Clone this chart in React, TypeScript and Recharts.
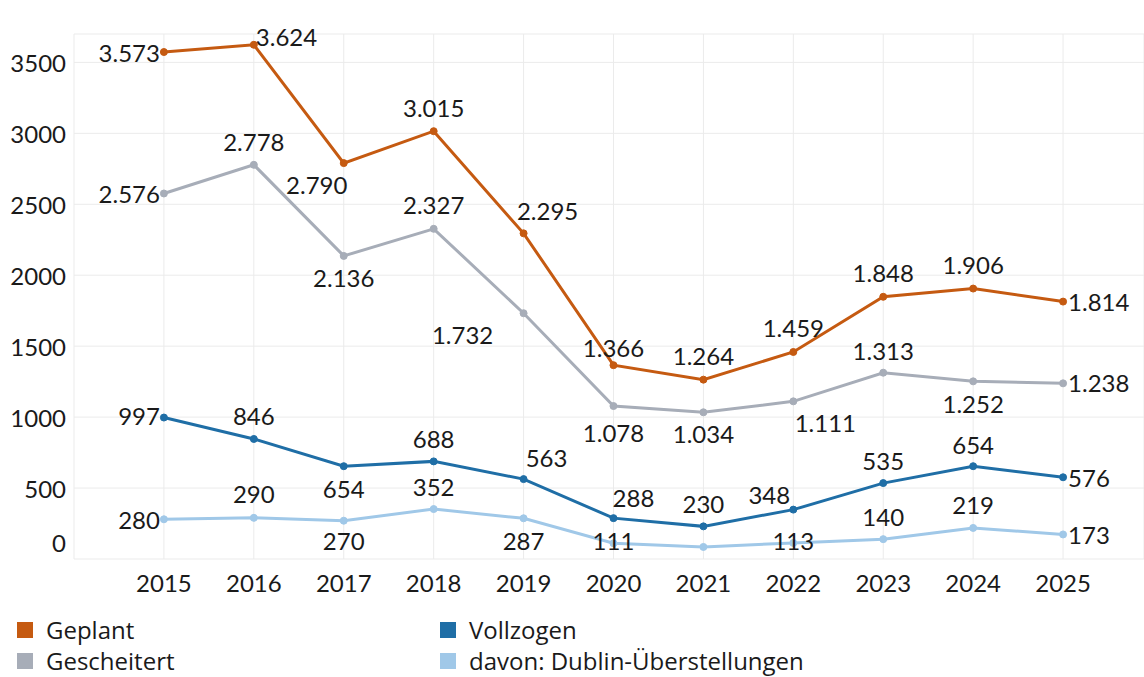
import React from "react";
import { LineChart, Line, XAxis, YAxis, CartesianGrid, LabelList } from "recharts";

const years = [2015, 2016, 2017, 2018, 2019, 2020, 2021, 2022, 2023, 2024, 2025];
const geplant = [3573, 3624, 2790, 3015, 2295, 1366, 1264, 1459, 1848, 1906, 1814];
const gescheitert = [2576, 2778, 2136, 2327, 1732, 1078, 1034, 1111, 1313, 1252, 1238];
const vollzogen = [997, 846, 654, 688, 563, 288, 230, 348, 535, 654, 576];
const dublin = [280, 290, 270, 352, 287, 111, 85, 113, 140, 219, 173];
const dublinShown = [true, true, true, true, true, true, false, true, true, true, true];
const yTicks = [0, 500, 1000, 1500, 2000, 2500, 3000, 3500];
const xTicks = [2014, 2015, 2016, 2017, 2018, 2019, 2020, 2021, 2022, 2023, 2024, 2025];

const FONT = "Lato, 'Open Sans', sans-serif";
const LEGEND_FONT = "'Open Sans', Lato, sans-serif";
const TEXT = "#1a1a1a";
const C_GEPLANT = "#C55A11";
const C_GESCH = "#A7ADB8";
const C_VOLL = "#1F6EA6";
const C_DUB = "#A0C8E8";

type Place = [string, number, number];
const placeGeplant: Place[] = [
  ["end", -4, 0], ["start", 2, -8], ["middle", -27, 21], ["middle", 0, -24], ["middle", 24, -23],
  ["middle", 0, -18], ["middle", 0, -24], ["middle", 0, -24], ["middle", 0, -24], ["middle", 0, -24], ["start", 5, 0],
];
const placeGesch: Place[] = [
  ["end", -4, 0], ["middle", 0, -23], ["middle", 0, 22], ["middle", 0, -24], ["middle", -61, 21],
  ["middle", 0, 26], ["middle", 0, 21], ["middle", 32, 21], ["middle", 0, -22], ["middle", 0, 22], ["start", 5, -1],
];
const placeVoll: Place[] = [
  ["end", -4, -2], ["middle", 0, -23], ["middle", 0, 22], ["middle", 0, -23], ["middle", 23, -22],
  ["middle", 20, -21], ["middle", 0, -23], ["middle", -24, -15], ["middle", 0, -23], ["middle", 0, -22], ["start", 5, 0],
];
const placeDub: Place[] = [
  ["end", -4, 0], ["middle", 0, -24], ["middle", 0, 20], ["middle", 0, -23], ["middle", 0, 22],
  ["middle", 0, -3], ["middle", 0, 0], ["middle", 0, -2], ["middle", 0, -23], ["middle", 0, -23], ["start", 5, 0],
];

const data = years.map((y, i) => ({
  year: y,
  geplant: geplant[i],
  gescheitert: gescheitert[i],
  vollzogen: vollzogen[i],
  dublin: dublin[i],
}));

function fmt(v: number): string {
  const s = String(Math.round(v));
  return s.replace(/\B(?=(\d{3})+(?!\d))/g, ".");
}

function makeLabel(places: Place[], shown?: boolean[]) {
  return (props: any) => {
    const { x, y, value, index } = props;
    if (shown && !shown[index]) return null;
    const p = places[index];
    return (
      <text
        x={x + p[1]}
        y={y + p[2]}
        textAnchor={p[0] as any}
        dominantBaseline="central"
        fontFamily={FONT}
        fontSize={24}
        fill={TEXT}
      >
        {fmt(value)}
      </text>
    );
  };
}

const YTick = (props: any) => {
  const { x, y, payload } = props;
  const off = payload.value === 0 ? -17 : 0;
  return (
    <text x={x} y={y + off} textAnchor="end" dominantBaseline="central" fontFamily={FONT} fontSize={24} fill={TEXT}>
      {payload.value}
    </text>
  );
};

const XTick = (props: any) => {
  const { x, y, payload } = props;
  if (payload.value === 2014) return null;
  return (
    <text x={x} y={y + 1} textAnchor="middle" dominantBaseline="central" fontFamily={FONT} fontSize={24} fill={TEXT}>
      {payload.value}
    </text>
  );
};

const legendItems = [
  { name: "Geplant", color: C_GEPLANT, left: 17, top: 622 },
  { name: "Vollzogen", color: C_VOLL, left: 440, top: 622 },
  { name: "Gescheitert", color: C_GESCH, left: 17, top: 653 },
  { name: "davon: Dublin-Überstellungen", color: C_DUB, left: 440, top: 653 },
];

export default function App() {
  return (
    <div style={{ position: "absolute", left: 0, top: 0, width: 1144, height: 677, background: "#fff", overflow: "hidden" }}>
      <LineChart
        width={1144}
        height={677}
        data={data}
        margin={{ top: 34, right: 0, bottom: 78, left: 0 }}
      >
        <CartesianGrid stroke="#EBEBEB" strokeWidth={1} vertical={true} horizontal={true} />
        <XAxis
          dataKey="year"
          type="number"
          domain={[2014, 2025.9]}
          ticks={xTicks}
          allowDataOverflow
          axisLine={false}
          tickLine={false}
          height={40}
          tick={<XTick />}
          tickMargin={16}
        />
        <YAxis
          domain={[0, 3700]}
          ticks={yTicks}
          allowDataOverflow
          axisLine={false}
          tickLine={false}
          width={74}
          tick={<YTick />}
        />
        <Line dataKey="dublin" stroke={C_DUB} strokeWidth={3} dot={{ r: 3.5, fill: C_DUB, stroke: C_DUB, strokeWidth: 1 }} isAnimationActive={false}>
          <LabelList dataKey="dublin" content={makeLabel(placeDub, dublinShown)} />
        </Line>
        <Line dataKey="vollzogen" stroke={C_VOLL} strokeWidth={3} dot={{ r: 3.5, fill: C_VOLL, stroke: C_VOLL, strokeWidth: 1 }} isAnimationActive={false}>
          <LabelList dataKey="vollzogen" content={makeLabel(placeVoll)} />
        </Line>
        <Line dataKey="gescheitert" stroke={C_GESCH} strokeWidth={3} dot={{ r: 3.5, fill: C_GESCH, stroke: C_GESCH, strokeWidth: 1 }} isAnimationActive={false}>
          <LabelList dataKey="gescheitert" content={makeLabel(placeGesch)} />
        </Line>
        <Line dataKey="geplant" stroke={C_GEPLANT} strokeWidth={3} dot={{ r: 3.5, fill: C_GEPLANT, stroke: C_GEPLANT, strokeWidth: 1 }} isAnimationActive={false}>
          <LabelList dataKey="geplant" content={makeLabel(placeGeplant)} />
        </Line>
      </LineChart>
      {legendItems.map((it) => (
        <div
          key={it.name}
          style={{
            position: "absolute",
            left: it.left,
            top: it.top,
            height: 16,
            display: "flex",
            alignItems: "center",
            fontFamily: LEGEND_FONT,
            fontSize: 24,
            lineHeight: "16px",
            color: TEXT,
            whiteSpace: "nowrap",
          }}
        >
          <span style={{ display: "inline-block", width: 16, height: 16, background: it.color, marginRight: 13 }} />
          <span>{it.name}</span>
        </div>
      ))}
    </div>
  );
}
